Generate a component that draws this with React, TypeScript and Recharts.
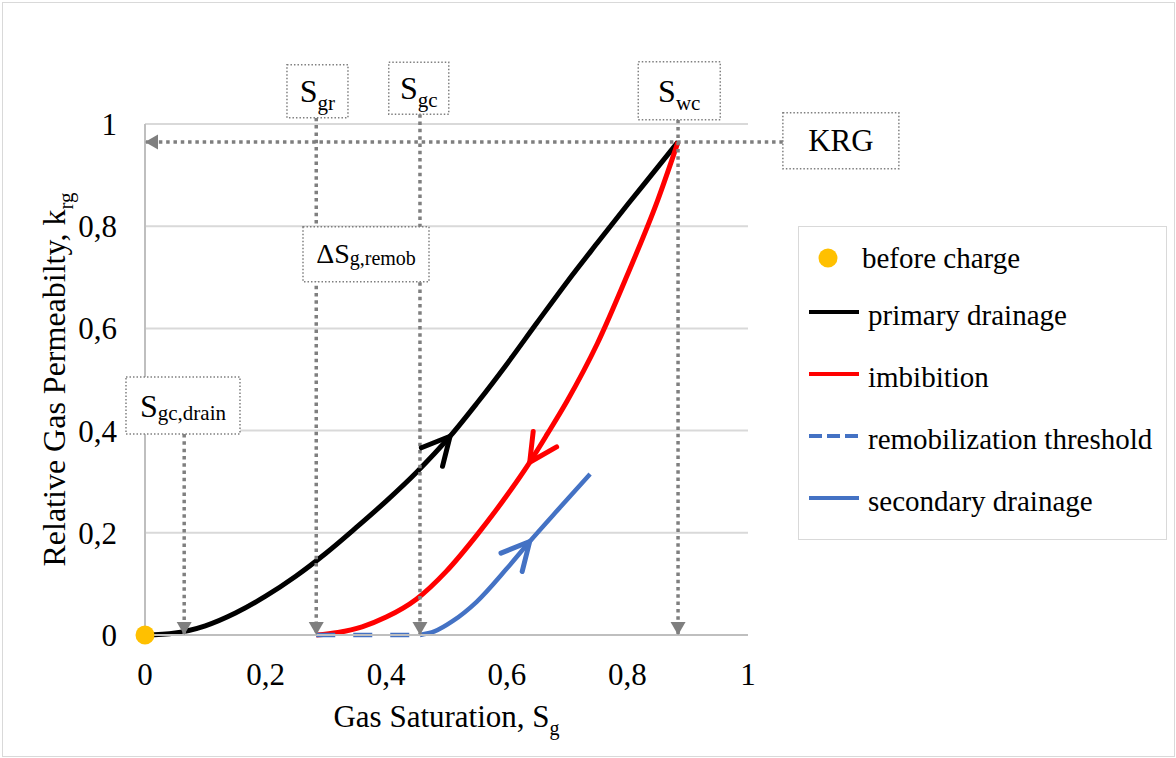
import React from "react";
import {
  ComposedChart,
  Line,
  Scatter,
  XAxis,
  YAxis,
  CartesianGrid,
  Legend,
  ReferenceLine,
  ReferenceDot,
} from "recharts";

const W = 1176;
const H = 758;
// plot area in page pixels
const PLOT = { left: 145, top: 124, right: 748, bottom: 635 };
const PX_X = PLOT.right - PLOT.left; // px per unit of Sg (domain 0..1)
const PX_Y = PLOT.bottom - PLOT.top; // px per unit of krg (domain 0..1)

const FONT = "Liberation Serif";
const ASC = 0.8375; // baseline position inside a 1em line box
const GUIDE = "#7F7F7F";

const ticks = [0, 0.2, 0.4, 0.6, 0.8, 1];

// characteristic saturations and end point permeability
const S_GC_DRAIN = 0.065;
const S_GR = 0.284;
const S_GC = 0.456;
const S_WC = 0.884;
const KRG = 0.965;

const beforeCharge = [{ x: 0, y: 0 }];

const primaryDrainage = [
  { x: 0, y: 0 },
  { x: 0.05, y: 0.004 },
  { x: 0.1, y: 0.018 },
  { x: 0.15, y: 0.043 },
  { x: 0.2, y: 0.076 },
  { x: 0.25, y: 0.115 },
  { x: 0.3, y: 0.16 },
  { x: 0.35, y: 0.21 },
  { x: 0.4, y: 0.262 },
  { x: 0.45, y: 0.318 },
  { x: 0.506, y: 0.389 },
  { x: 0.55, y: 0.453 },
  { x: 0.6, y: 0.53 },
  { x: 0.65, y: 0.611 },
  { x: 0.7, y: 0.691 },
  { x: 0.75, y: 0.767 },
  { x: 0.8, y: 0.842 },
  { x: 0.85, y: 0.915 },
  { x: S_WC, y: KRG },
];

// imbibition runs from S_WC back to S_GR; stored in ascending Sg
const imbibition = [
  { x: S_GR, y: 0 },
  { x: 0.32, y: 0.005 },
  { x: 0.36, y: 0.016 },
  { x: 0.4, y: 0.035 },
  { x: 0.45, y: 0.07 },
  { x: 0.5, y: 0.125 },
  { x: 0.55, y: 0.195 },
  { x: 0.6, y: 0.273 },
  { x: 0.638, y: 0.338 },
  { x: 0.667, y: 0.393 },
  { x: 0.7, y: 0.458 },
  { x: 0.75, y: 0.57 },
  { x: 0.8, y: 0.705 },
  { x: 0.85, y: 0.85 },
  { x: S_WC, y: KRG },
];

const remobilizationThreshold = [
  { x: S_GR, y: 0 },
  { x: S_GC, y: 0 },
];

const secondaryDrainage = [
  { x: S_GC, y: 0 },
  { x: 0.48, y: 0.007 },
  { x: 0.51, y: 0.027 },
  { x: 0.55, y: 0.065 },
  { x: 0.6, y: 0.13 },
  { x: 0.638, y: 0.183 },
  { x: 0.69, y: 0.252 },
  { x: 0.738, y: 0.315 },
];

const series = [
  { name: "before charge", color: "#FFC000", kind: "dot" },
  { name: "primary drainage", color: "#000000", kind: "line" },
  { name: "imbibition", color: "#FF0000", kind: "line" },
  { name: "remobilization threshold", color: "#4472C4", kind: "dash" },
  { name: "secondary drainage", color: "#4472C4", kind: "line" },
];

// dotted label boxes: x/y = box centre in data units, w/h in px
const boxes = [
  { key: "sgr", main: "S", sub: "gr", x: 0.286, y: 1.064, w: 61, h: 53, fs: 32, sfs: 21, sdy: 8 },
  { key: "sgc", main: "S", sub: "gc", x: 0.454, y: 1.07, w: 60, h: 52, fs: 32, sfs: 21, sdy: 8 },
  { key: "swc", main: "S", sub: "wc", x: 0.886, y: 1.065, w: 82, h: 58, fs: 32, sfs: 21, sdy: 8 },
  { key: "krg", main: "KRG", sub: "", x: 1.154, y: 0.967, w: 116, h: 56, fs: 31, sfs: 21, sdy: 0 },
  { key: "dsg", main: "\u0394S", sub: "g,remob", x: 0.3665, y: 0.745, w: 126, h: 55, fs: 28, sfs: 20, sdy: 2 },
  { key: "sgcd", main: "S", sub: "gc,drain", x: 0.063, y: 0.449, w: 114, h: 57, fs: 32, sfs: 21, sdy: 3 },
];

const boxOf = (k: string) => boxes.find((b) => b.key === k)!;
const boxBottom = (k: string) => boxOf(k).y - boxOf(k).h / 2 / PX_Y;

// dotted guide lines with arrow heads at the "to" end
const guides = [
  { key: "krg", from: { x: boxOf("krg").x - boxOf("krg").w / 2 / PX_X, y: KRG }, to: { x: 0, y: KRG }, dir: "left" },
  { key: "swc", from: { x: S_WC, y: boxBottom("swc") }, to: { x: S_WC, y: 0 }, dir: "down" },
  { key: "sgc", from: { x: S_GC, y: boxBottom("sgc") }, to: { x: S_GC, y: 0 }, dir: "down" },
  { key: "sgr", from: { x: S_GR, y: boxBottom("sgr") }, to: { x: S_GR, y: 0 }, dir: "down" },
  { key: "sgcd", from: { x: S_GC_DRAIN, y: boxBottom("sgcd") }, to: { x: S_GC_DRAIN, y: 0 }, dir: "down" },
];

const fmt = (v: number) => String(v).replace(".", ",");

type FOTextProps = {
  x: number;
  y: number; // baseline
  size: number;
  text: string;
  sub?: string;
  subSize?: number;
  subDy?: number;
  anchor?: "start" | "middle" | "end";
  transform?: string;
  boxW?: number;
};

// serif text laid out as html inside the chart svg
function FOText({ x, y, size, text, sub, subSize = 20, subDy = 8, anchor = "start", transform, boxW = 400 }: FOTextProps) {
  const left = anchor === "start" ? x : anchor === "middle" ? x - boxW / 2 : x - boxW;
  const top = y - ASC * size;
  return (
    <foreignObject x={left} y={top} width={boxW} height={size * 1.8} transform={transform} style={{ overflow: "visible" }}>
      <div
        style={{
          width: boxW,
          fontFamily: FONT,
          fontSize: size,
          lineHeight: `${size}px`,
          color: "#000",
          whiteSpace: "nowrap",
          textAlign: anchor === "start" ? "left" : anchor === "middle" ? "center" : "right",
        }}
      >
        {text}
        {sub ? <span style={{ fontSize: subSize, position: "relative", top: subDy }}>{sub}</span> : null}
      </div>
    </foreignObject>
  );
}

function XTick({ x, y, payload }: any) {
  return <FOText x={x} y={y + 22} size={31} text={fmt(payload.value)} anchor="middle" boxW={120} />;
}

function YTick({ x, y, payload }: any) {
  return <FOText x={x} y={y + 11} size={31} text={fmt(payload.value)} anchor="end" boxW={120} />;
}

// open "V" arrow head drawn on one point of a curve, oriented along it
function arrowDot(data: { x: number; y: number }[], idx: number, color: string, dir: number) {
  return (p: any) => {
    if (p.index !== idx) return <g key={`d${p.index}`} />;
    const a = data[idx - 1];
    const b = data[idx + 1];
    const dx = (b.x - a.x) * PX_X * dir;
    const dy = -(b.y - a.y) * PX_Y * dir;
    const ang = Math.atan2(dy, dx);
    const L = 31;
    const half = 0.47;
    const w1x = p.cx - L * Math.cos(ang - half);
    const w1y = p.cy - L * Math.sin(ang - half);
    const w2x = p.cx - L * Math.cos(ang + half);
    const w2y = p.cy - L * Math.sin(ang + half);
    return (
      <path
        key={`d${p.index}`}
        d={`M${w1x},${w1y} L${p.cx},${p.cy} L${w2x},${w2y}`}
        fill="none"
        stroke={color}
        strokeWidth={5}
        strokeLinecap="round"
        strokeLinejoin="round"
      />
    );
  };
}

function ArrowHead({ cx, cy, dir }: { cx: number; cy: number; dir: string }) {
  const pts =
    dir === "down"
      ? `${cx},${cy} ${cx - 7.5},${cy - 13} ${cx + 7.5},${cy - 13}`
      : `${cx},${cy} ${cx + 13},${cy - 7.5} ${cx + 13},${cy + 7.5}`;
  return <polygon points={pts} fill={GUIDE} />;
}

function LabelBox({ cx, cy, b }: { cx: number; cy: number; b: (typeof boxes)[number] }) {
  return (
    <g>
      <rect
        x={cx - b.w / 2}
        y={cy - b.h / 2}
        width={b.w}
        height={b.h}
        fill="#FFFFFF"
        stroke={GUIDE}
        strokeWidth={1.5}
        strokeDasharray="1.5 2"
      />
      <FOText
        x={cx}
        y={cy + b.fs * 0.34}
        size={b.fs}
        text={b.main}
        sub={b.sub || undefined}
        subSize={b.sfs}
        subDy={b.sdy}
        anchor="middle"
        boxW={200}
      />
    </g>
  );
}

function LegendContent() {
  return (
    <div style={{ position: "relative", width: 367, height: 312 }}>
      <svg width={369} height={314} style={{ position: "absolute", left: 0, top: 0, display: "block" }}>
        {series.map((s, i) => {
          if (s.kind === "dot") return <circle key={s.name} cx={29} cy={31} r={9.5} fill={s.color} />;
          const y = 85 + 62 * (i - 1);
          return (
            <line
              key={s.name}
              x1={10}
              x2={60}
              y1={y}
              y2={y}
              stroke={s.color}
              strokeWidth={4}
              strokeDasharray={s.kind === "dash" ? "13 5" : undefined}
            />
          );
        })}
      </svg>
      {series.map((s, i) => {
        const base = s.kind === "dot" ? 41 : 85 + 62 * (i - 1) + 13;
        return (
          <div
            key={`t-${s.name}`}
            style={{
              position: "absolute",
              left: s.kind === "dot" ? 63 : 69,
              top: base - ASC * 29,
              fontFamily: FONT,
              fontSize: 29,
              lineHeight: "29px",
              whiteSpace: "nowrap",
              color: "#000",
            }}
          >
            {s.name}
          </div>
        );
      })}
    </div>
  );
}

function XTitle() {
  return (
    <FOText
      x={(PLOT.left + PLOT.right) / 2}
      y={727}
      size={31}
      text="Gas Saturation, S"
      sub="g"
      subSize={20}
      subDy={8}
      anchor="middle"
      boxW={700}
    />
  );
}

function YTitle() {
  return (
    <FOText
      x={0}
      y={0}
      transform={`translate(65, ${(PLOT.top + PLOT.bottom) / 2}) rotate(-90)`}
      size={32}
      text="Relative Gas Permeabilty, k"
      sub="rg"
      subSize={21}
      subDy={8}
      anchor="middle"
      boxW={700}
    />
  );
}

export default function App() {
  const yAxisW = 60;
  const xAxisH = 40;
  return (
    <div style={{ position: "absolute", left: 0, top: 0, width: W, height: H, background: "#fff" }}>
      <div
        style={{
          position: "absolute",
          left: 2,
          top: 2,
          width: W - 3,
          height: H - 3,
          boxSizing: "border-box",
          border: "1px solid #D9D9D9",
        }}
      />
      <div style={{ position: "absolute", left: 0, top: 0 }}>
        <ComposedChart
          width={W}
          height={H}
          margin={{
            top: PLOT.top,
            right: W - PLOT.right,
            bottom: H - PLOT.bottom - xAxisH,
            left: PLOT.left - yAxisW,
          }}
        >
          <CartesianGrid vertical={false} stroke="#D9D9D9" strokeWidth={2} />
          <XAxis
            dataKey="x"
            type="number"
            domain={[0, 1]}
            ticks={ticks}
            height={xAxisH}
            axisLine={{ stroke: "#BFBFBF", strokeWidth: 2 }}
            tickLine={false}
            tickSize={6}
            tickMargin={22}
            tick={XTick}
            label={{ content: () => <XTitle /> }}
          />
          <YAxis
            dataKey="y"
            type="number"
            domain={[0, 1]}
            ticks={ticks}
            width={yAxisW}
            axisLine={{ stroke: "#BFBFBF", strokeWidth: 2 }}
            tickLine={false}
            tickSize={6}
            tickMargin={22}
            tick={YTick}
            label={{ content: () => <YTitle /> }}
          />
          <Scatter
            data={beforeCharge}
            dataKey="y"
            name="before charge"
            isAnimationActive={false}
            shape={(p: any) => <circle cx={p.cx} cy={p.cy} r={9.5} fill="#FFC000" />}
          />
          <Line
            data={primaryDrainage}
            dataKey="y"
            name="primary drainage"
            type="monotone"
            stroke="#000000"
            strokeWidth={5}
            dot={arrowDot(primaryDrainage, 10, "#000000", 1)}
            activeDot={false}
            isAnimationActive={false}
          />
          <Line
            data={imbibition}
            dataKey="y"
            name="imbibition"
            type="monotone"
            stroke="#FF0000"
            strokeWidth={5}
            dot={arrowDot(imbibition, 8, "#FF0000", -1)}
            activeDot={false}
            isAnimationActive={false}
          />
          <Line
            data={remobilizationThreshold}
            dataKey="y"
            name="remobilization threshold"
            type="linear"
            stroke="#4472C4"
            strokeWidth={4.5}
            strokeDasharray="19 18"
            dot={false}
            activeDot={false}
            isAnimationActive={false}
          />
          <Line
            data={secondaryDrainage}
            dataKey="y"
            name="secondary drainage"
            type="monotone"
            stroke="#4472C4"
            strokeWidth={4.5}
            dot={arrowDot(secondaryDrainage, 5, "#4472C4", 1)}
            activeDot={false}
            isAnimationActive={false}
          />
          {guides.map((g) => (
            <ReferenceLine
              key={`gl-${g.key}`}
              segment={[g.from, g.to]}
              stroke={GUIDE}
              strokeWidth={3.5}
              strokeDasharray="3.5 3.8"
              ifOverflow="visible"
            />
          ))}
          {guides.map((g) => (
            <ReferenceDot
              key={`ga-${g.key}`}
              x={g.to.x}
              y={g.to.y}
              ifOverflow="visible"
              shape={(p: any) => <ArrowHead cx={p.cx} cy={p.cy} dir={g.dir} />}
            />
          ))}
          {boxes.map((b) => (
            <ReferenceDot
              key={`bx-${b.key}`}
              x={b.x}
              y={b.y}
              ifOverflow="visible"
              shape={(p: any) => <LabelBox cx={p.cx} cy={p.cy} b={b} />}
            />
          ))}
          <Legend
            layout="horizontal"
            verticalAlign="middle"
            align="center"
            content={() => <LegendContent />}
            wrapperStyle={{
              left: 798,
              top: 226,
              width: 369,
              height: 314,
              border: "1px solid #D9D9D9",
              boxSizing: "border-box",
              background: "#fff",
            }}
          />
        </ComposedChart>
      </div>
    </div>
  );
}
